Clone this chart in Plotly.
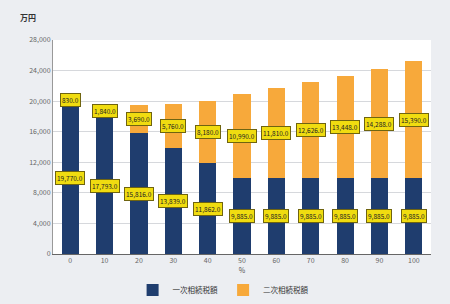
import plotly.graph_objects as go

shares = [0, 10, 20, 30, 40, 50, 60, 70, 80, 90, 100]
primary_tax = [19770.0, 17793.0, 15816.0, 13839.0, 11862.0, 9885.0, 9885.0, 9885.0, 9885.0, 9885.0, 9885.0]
secondary_tax = [830.0, 1840.0, 3690.0, 5760.0, 8180.0, 10990.0, 11810.0, 12626.0, 13448.0, 14288.0, 15390.0]
y_ticks = [0, 4000, 8000, 12000, 16000, 20000, 24000, 28000]
names = ["一次相続税額", "二次相続税額"]

FONT = "Noto Sans CJK JP"
BLUE = "#1f3d6e"
ORANGE = "#f7a93b"

fig = go.Figure()
fig.add_trace(go.Bar(x=shares, y=primary_tax, name=names[0], marker=dict(color=BLUE, line=dict(width=0)), width=5))
fig.add_trace(go.Bar(x=shares, y=secondary_tax, name=names[1], marker=dict(color=ORANGE, line=dict(width=0)), width=5))

ann = []
for x, p, s in zip(shares, primary_tax, secondary_tax):
    ann.append(dict(x=x, y=p / 2, text=f"{p:,.1f}", showarrow=False,
                    font=dict(size=6.5, color="#222", family=FONT), bgcolor="#f0dc10",
                    bordercolor="#6f6410", borderwidth=1, borderpad=1))
    ann.append(dict(x=x, y=p + s / 2, text=f"{s:,.1f}", showarrow=False,
                    font=dict(size=6.5, color="#222", family=FONT), bgcolor="#f0dc10",
                    bordercolor="#6f6410", borderwidth=1, borderpad=1))
ann.append(dict(xref="paper", yref="paper", x=-0.066, y=1.103, text="<b>万円</b>", showarrow=False,
                xanchor="center", yanchor="middle", font=dict(size=8, color="#333", family=FONT)))

fig.update_layout(
    barmode="stack",
    width=450, height=304,
    margin=dict(l=53, r=19, t=40, b=50, autoexpand=False),
    paper_bgcolor="#eceef2",
    plot_bgcolor="#ffffff",
    font=dict(family=FONT, size=7, color="#555"),
    annotations=ann,
    showlegend=True,
    legend=dict(orientation="h", x=0.45, xanchor="center", y=-0.168, yanchor="middle",
                font=dict(size=7.5, color="#333", family=FONT), bgcolor="rgba(0,0,0,0)",
                itemwidth=30, traceorder="normal"),
    xaxis=dict(range=[-5, 105], tickvals=shares, ticktext=[str(s) for s in shares],
               showgrid=False, showline=True, linecolor="#666", linewidth=1, ticks="",
               title=dict(text="%", font=dict(size=7, color="#555"), standoff=2),
               tickfont=dict(size=7, color="#666")),
    yaxis=dict(range=[0, 28000], tickvals=y_ticks, ticktext=[f"{v:,}" for v in y_ticks],
               showgrid=True, gridcolor="#d6d8dc", gridwidth=1, showline=True, linecolor="#999",
               linewidth=1, zeroline=False, ticks="", tickfont=dict(size=7, color="#666")),
)

fig.write_html("out.html", config={"displayModeBar": False},
               post_script="document.body.style.margin='0';document.body.style.overflow='hidden';")
